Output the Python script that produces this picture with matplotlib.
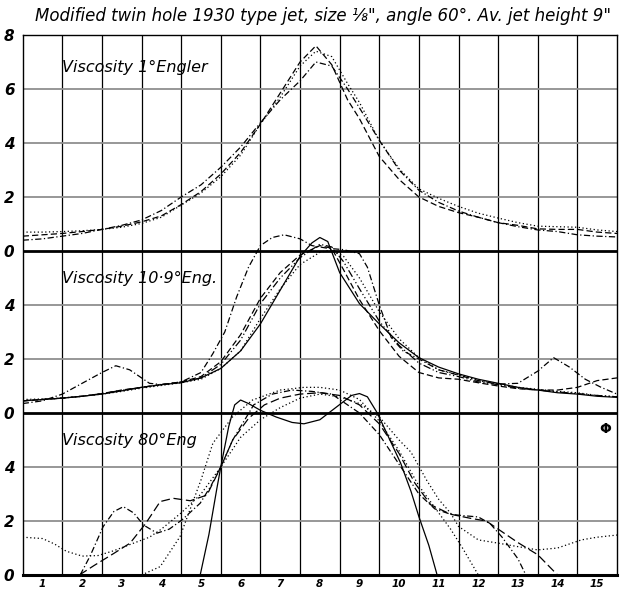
import matplotlib
matplotlib.use("Agg")
import matplotlib.pyplot as plt

# ---------------- data (local values within each panel) ----------------
x_labels = [str(i) for i in range(1, 16)]

# Top panel: Viscosity 1° Engler
top_x = [0.5, 1, 1.5, 2, 2.5, 3, 3.5, 4, 4.5, 5, 5.5, 6, 6.5, 7, 7.5, 7.9, 8.3, 8.7,
         9, 9.5, 10, 10.5, 11, 11.5, 12, 12.5, 13, 13.5, 14, 14.5, 15, 15.5]
top_dashed = [0.55, 0.6, 0.65, 0.72, 0.8, 0.92, 1.08, 1.3, 1.72, 2.2, 2.85, 3.65, 4.7, 5.85, 7.0, 7.6,
              6.9, 5.6, 4.9, 3.5, 2.65, 2.0, 1.65, 1.42, 1.25, 1.05, 0.95, 0.82, 0.8, 0.8, 0.7, 0.65]
top_dotted = [0.7, 0.7, 0.72, 0.75, 0.8, 0.88, 1.02, 1.25, 1.7, 2.15, 2.75, 3.55, 4.7, 5.7, 6.85, 7.4,
              7.2, 6.2, 5.5, 4.1, 3.05, 2.3, 1.95, 1.65, 1.4, 1.22, 1.05, 0.92, 0.9, 0.88, 0.78, 0.72]
top_dashdot = [0.4, 0.45, 0.55, 0.65, 0.8, 0.95, 1.15, 1.5, 2.0, 2.45, 3.1, 3.85, 4.75, 5.6, 6.3, 7.0,
               6.85, 6.0, 5.3, 4.1, 3.0, 2.25, 1.8, 1.48, 1.25, 1.05, 0.9, 0.78, 0.72, 0.6, 0.55, 0.52]

# Middle panel: Viscosity 10.9° Eng.
mid_a_x = [0.5, 1, 1.5, 2, 2.5, 2.85, 3.2, 3.7, 4, 4.5, 5, 5.3, 5.6, 5.9, 6.2, 6.5, 6.8, 7.1, 7.5,
           7.8, 8.2, 8.6, 9, 9.2, 9.5, 9.8, 10.1, 10.5, 11, 11.5, 12, 12.5, 13, 13.5, 13.9, 14.3,
           14.7, 15.1, 15.5]
mid_a_y = [0.35, 0.45, 0.7, 1.1, 1.5, 1.75, 1.6, 1.1, 1.05, 1.15, 1.5, 2.2, 3.0, 4.3, 5.4, 6.2, 6.5,
           6.6, 6.45, 6.2, 6.1, 6.05, 5.9, 5.4, 4.0, 2.8, 2.3, 2.0, 1.6, 1.4, 1.2, 1.07, 1.1, 1.55,
           2.05, 1.7, 1.25, 0.95, 0.7]
mid_x = [0.5, 1, 1.5, 2, 2.5, 3, 3.5, 4, 4.5, 5, 5.5, 6, 6.5, 7, 7.5, 8, 8.3, 8.6, 9, 9.5, 10,
         10.5, 11, 11.5, 12, 12.5, 13, 13.5, 14, 14.5, 15, 15.5]
mid_dashed = [0.45, 0.5, 0.55, 0.62, 0.72, 0.85, 0.95, 1.05, 1.15, 1.35, 1.9, 2.9, 4.25, 5.2, 5.85,
              6.2, 6.1, 5.3, 4.2, 3.05, 2.1, 1.5, 1.3, 1.25, 1.12, 1.0, 0.9, 0.85, 0.85, 0.95, 1.2, 1.3]
mid_dashdot = [0.45, 0.5, 0.55, 0.62, 0.72, 0.84, 0.95, 1.05, 1.15, 1.3, 1.8, 2.7, 4.05, 5.0, 5.75,
               6.25, 6.15, 5.6, 4.6, 3.4, 2.5, 1.85, 1.5, 1.35, 1.15, 1.05, 0.92, 0.85, 0.78, 0.72,
               0.65, 0.6]
mid_dotted = [0.5, 0.52, 0.56, 0.62, 0.7, 0.8, 0.92, 1.02, 1.12, 1.25, 1.65, 2.3, 3.5, 4.6, 5.5,
              5.95, 6.05, 5.8, 5.0, 3.75, 2.75, 2.05, 1.6, 1.42, 1.2, 1.08, 0.95, 0.88, 0.8, 0.75,
              0.65, 0.6]
mid_solid_x = [0.5, 1, 1.5, 2, 2.5, 3, 3.5, 4, 4.5, 5, 5.5, 6, 6.5, 7, 7.5, 7.8, 8, 8.2, 8.5, 9,
               9.5, 10, 10.5, 11, 11.5, 12, 12.5, 13, 13.5, 14, 14.5, 15, 15.5]
mid_solid = [0.45, 0.5, 0.55, 0.62, 0.7, 0.82, 0.95, 1.05, 1.12, 1.3, 1.65, 2.3, 3.3, 4.55, 5.8,
             6.3, 6.5, 6.35, 5.2, 4.05, 3.3, 2.6, 2.05, 1.7, 1.45, 1.25, 1.1, 0.95, 0.85, 0.75,
             0.7, 0.62, 0.58]

# Bottom panel: Viscosity 80° Eng
bot_solid_x = [4.98, 5.2, 5.4, 5.5, 5.7, 5.85, 6.0, 6.2, 6.5, 6.9, 7.3, 7.6, 8.0, 8.4, 8.8, 9.0,
               9.2, 9.45, 9.8, 10.04, 10.3, 10.5, 10.75, 10.96]
bot_solid = [0, 1.5, 3.2, 4.0, 5.5, 6.3, 6.48, 6.35, 6.1, 5.85, 5.65, 5.6, 5.75, 6.2, 6.65, 6.72,
             6.6, 6.0, 4.9, 4.14, 3.1, 2.16, 1.1, 0]
bot_dot1_x = [0.5, 1, 1.3, 1.6, 2, 2.4, 2.8, 3.3, 3.7, 4.0, 4.5, 5.0, 5.5, 6.0, 6.5, 7.0, 7.5, 8.0,
              8.5, 9.0, 9.5, 10.0, 10.3, 10.7, 11.0, 11.3, 11.5, 12.0, 12.5, 13.0, 13.5, 14.0,
              14.6, 15.0, 15.5]
bot_dot1 = [1.4, 1.35, 1.15, 0.88, 0.7, 0.72, 0.9, 1.18, 1.4, 1.7, 2.3, 3.0, 4.0, 5.1, 5.75, 6.2,
            6.55, 6.7, 6.6, 6.35, 5.86, 5.0, 4.55, 3.5, 2.8, 2.29, 1.8, 1.3, 1.18, 1.05, 0.93,
            1.0, 1.3, 1.4, 1.48]
bot_dot2_x = [3.5, 3.97, 4.47, 5.0, 5.3, 5.8, 6.3, 7.0, 7.6, 8.0, 8.5, 9.0, 9.5, 10.0, 10.5, 11.0,
              11.3, 11.6, 11.8, 12.0]
bot_dot2 = [0, 0.31, 1.42, 3.52, 4.88, 5.86, 6.48, 6.85, 6.95, 6.95, 6.85, 6.5, 5.7, 4.6, 3.3, 2.3,
            1.7, 1.0, 0.5, 0]
bot_dd_x = [1.95, 2.2, 2.53, 2.8, 3.04, 3.3, 3.55, 3.89, 4.2, 4.52, 4.98, 5.25, 5.5, 5.8, 6.33, 6.8,
            7.3, 7.8, 8.3, 8.6, 9.0, 9.5, 10.0, 10.5, 10.9, 11.3, 11.6, 12.0, 12.3, 12.6, 13.0, 13.2]
bot_dd = [0, 0.7, 1.79, 2.35, 2.53, 2.3, 1.85, 1.55, 1.7, 2.04, 2.66, 3.3, 4.0, 5.0, 6.3, 6.7, 6.85,
          6.8, 6.7, 6.4, 6.0, 5.2, 4.1, 3.0, 2.45, 2.25, 2.2, 2.15, 1.9, 1.4, 0.6, 0]
bot_dash_x = [1.93, 2.3, 2.8, 3.21, 3.6, 3.97, 4.3, 4.73, 5.15, 5.5, 5.8, 6.2, 6.6, 7.0, 7.5, 8.0,
              8.5, 9.0, 9.5, 10.0, 10.4, 10.8, 11.3, 11.8, 12.2, 12.6, 13.0, 13.5, 14.0]
bot_dash = [0, 0.35, 0.8, 1.18, 1.9, 2.72, 2.84, 2.75, 2.96, 4.0, 5.0, 5.8, 6.3, 6.55, 6.7, 6.75,
            6.65, 6.3, 5.6, 4.5, 3.4, 2.6, 2.25, 2.1, 2.0, 1.6, 1.2, 0.75, 0]

# y tick labels as printed on the sheet (panels stacked)
y_tick_labels = ["0", "2", "4", "0", "2", "4", "0", "2", "4", "6", "8"]

# ---------------- drawing ----------------
W, H = 623, 594
fig = plt.figure(figsize=(W / 100, H / 100), dpi=100)
ax = fig.add_axes([22.7 / W, (H - 575) / H, (617 - 22.7) / W, (575 - 35) / H])

ax.set_xlim(0.5, 15.5)
ax.set_ylim(0, 20)

OFF_BOT, OFF_MID, OFF_TOP = 0, 6, 12

DASH = (0, (5, 2.5))
DOT = (0, (1, 2))
DASHDOT = (0, (5, 2, 1, 2))
DASHDOTDOT = (0, (6, 2, 1, 2, 1, 2))
kw = dict(color="black", lw=0.9)

# grid
for gx in [i + 0.5 for i in range(1, 15)]:
    ax.axvline(gx, color="black", lw=0.9, zorder=1)
for gy in [2, 4, 8, 10, 14, 16, 18]:
    ax.axhline(gy, color="#8f8f8f", lw=1.3, zorder=1)
for gy in [6, 12]:
    ax.axhline(gy, color="black", lw=2.0, zorder=2)

def shift(vals, off):
    return [v + off for v in vals]

# top
ax.plot(top_x, shift(top_dashed, OFF_TOP), linestyle=DASH, **kw)
ax.plot(top_x, shift(top_dotted, OFF_TOP), linestyle=DOT, **kw)
ax.plot(top_x, shift(top_dashdot, OFF_TOP), linestyle=DASHDOT, **kw)

# middle
ax.plot(mid_a_x, shift(mid_a_y, OFF_MID), linestyle=DASHDOT, **kw)
ax.plot(mid_x, shift(mid_dashed, OFF_MID), linestyle=DASH, **kw)
ax.plot(mid_x, shift(mid_dashdot, OFF_MID), linestyle=DASHDOTDOT, **kw)
ax.plot(mid_x, shift(mid_dotted, OFF_MID), linestyle=DOT, **kw)
ax.plot(mid_solid_x, shift(mid_solid, OFF_MID), linestyle="-", **kw)

# bottom
ax.plot(bot_solid_x, shift(bot_solid, OFF_BOT), linestyle="-", clip_on=False, **kw)
ax.plot(bot_dot1_x, shift(bot_dot1, OFF_BOT), linestyle=DOT, **kw)
ax.plot(bot_dot2_x, shift(bot_dot2, OFF_BOT), linestyle=DOT, **kw)
ax.plot(bot_dd_x, shift(bot_dd, OFF_BOT), linestyle=DASHDOT, **kw)
ax.plot(bot_dash_x, shift(bot_dash, OFF_BOT), linestyle=(0, (7, 3)), **kw)

# spines
for s in ["left", "right", "top"]:
    ax.spines[s].set_linewidth(1.0)
ax.spines["bottom"].set_linewidth(2.2)

# ticks
ax.set_xticks(range(1, 16))
ax.set_xticklabels(x_labels, fontsize=7.5, style="italic", fontweight="bold")
ax.set_yticks(range(0, 21, 2))
ax.set_yticklabels(y_tick_labels, fontsize=11, style="italic", fontweight="bold")
ax.tick_params(axis="y", length=0, pad=6)
ax.tick_params(axis="x", length=0, pad=3)

# panel labels
tkw = dict(fontsize=11.5, style="italic", color="black", zorder=5, va="center")
ax.text(1.5, 18.8, "Viscosity 1°Engler", **tkw)
ax.text(1.5, 11.0, "Viscosity 10·9°Eng.", **tkw)
ax.text(1.5, 5.0, "Viscosity 80°Eng", **tkw)
ax.text(15.2, 5.4, "Φ", fontsize=10, fontweight="bold", ha="center", va="center")

fig.text(35 / W, 1 - 16 / H, 'Modified twin hole 1930 type jet, size ⅛", angle 60°. Av. jet height 9"',
         fontsize=12.0, style="italic", ha="left", va="center")

fig.savefig("out.png", dpi=100)
